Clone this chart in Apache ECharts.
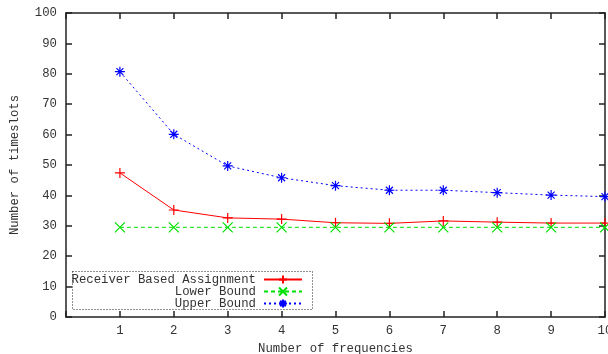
<!DOCTYPE html>
<html><head><meta charset="utf-8">
<script src="https://cdn.jsdelivr.net/npm/echarts@6/dist/echarts.min.js"></script>
<style>html,body{margin:0;padding:0;background:#fff}#c{width:608px;height:354px}</style>
</head><body><div id="c"></div>
<script>
const frequencies = [1, 2, 3, 4, 5, 6, 7, 8, 9, 10];
const receiverBased = [47.4, 35.2, 32.6, 32.2, 31.0, 30.8, 31.6, 31.2, 30.9, 30.9];
const lowerBound = [29.5, 29.5, 29.5, 29.5, 29.5, 29.5, 29.5, 29.5, 29.5, 29.5];
const upperBound = [80.7, 60.1, 49.7, 45.8, 43.2, 41.7, 41.7, 40.9, 40.1, 39.6];
const seriesNames = ['Receiver Based Assignment', 'Lower Bound', 'Upper Bound'];
const xTitle = 'Number of frequencies';
const yTitle = 'Number of timeslots';

const FONT = '"Liberation Mono", "DejaVu Sans Mono", monospace';
const FS = 12.3;
const PLUS = 'path://M0,5 L10,5 M5,0 L5,10';
const CROSS = 'path://M0,0 L10,10 M0,10 L10,0';
const STAR = 'path://M0,5 L10,5 M5,0 L5,10 M1.5,1.5 L8.5,8.5 M1.5,8.5 L8.5,1.5';

function pairs(vals){ return frequencies.map((f,i)=>[f, vals[i]]); }

const chart = echarts.init(document.getElementById('c'), null, {renderer:'canvas'});
const axisLine = {show:true, onZero:false, lineStyle:{color:'#222', width:1.5}};
const tickStyle = {show:true, inside:true, length:6, lineStyle:{color:'#222', width:1.5}};
const TXT = '#333';

function mkSeries(name, vals, color, type, sym){
  return {
    name, type:'line', data:pairs(vals), symbol:sym, symbolSize:10, showSymbol:true,
    lineStyle:{color, width:1, type},
    itemStyle:{color:'none', borderColor:color, borderWidth:1.2},
    emphasis:{disabled:true}, animation:false, z:3, clip:false
  };
}

function mkLegend(idx, top){
  return {
    data:[seriesNames[idx]], orient:'vertical', right:305, top, align:'right',
    itemWidth:38, itemHeight:10, itemGap:0, padding:0,
    textStyle:{fontFamily:FONT, fontSize:FS, color:TXT, padding:[0,3,0,0]},
    selectedMode:false, inactiveColor:TXT
  };
}

chart.setOption({
  animation:false,
  backgroundColor:'#fff',
  grid:{left:66, right:3, top:13, bottom:37, outerBoundsMode:'none', containLabel:false},
  legend:[mkLegend(0, 273), mkLegend(1, 285), mkLegend(2, 297)],
  xAxis:[{
    type:'value', min:0, max:10, interval:1,
    name:xTitle, nameLocation:'middle', nameGap:26,
    nameTextStyle:{fontFamily:FONT, fontSize:FS, color:TXT},
    axisLine, axisTick:tickStyle, splitLine:{show:false},
    axisLabel:{fontFamily:FONT, fontSize:FS, color:TXT, margin:8, hideOverlap:false,
      formatter:v => v===0 ? '' : String(v)}
  },{
    type:'value', min:0, max:10, interval:1, position:'top',
    axisLine, axisTick:tickStyle, splitLine:{show:false}, axisLabel:{show:false}
  }],
  yAxis:[{
    type:'value', min:0, max:100, interval:10,
    name:yTitle, nameLocation:'middle', nameGap:45,
    nameTextStyle:{fontFamily:FONT, fontSize:FS, color:TXT},
    axisLine, axisTick:tickStyle, splitLine:{show:false},
    axisLabel:{fontFamily:FONT, fontSize:FS, color:TXT, margin:9}
  },{
    type:'value', min:0, max:100, interval:10, position:'right',
    axisLine, axisTick:tickStyle, splitLine:{show:false}, axisLabel:{show:false}
  }],
  graphic:[{
    type:'rect', left:72, top:271, z:1,
    shape:{width:240, height:38},
    style:{fill:'#fff', stroke:'#222', lineWidth:1, lineDash:[1,2]}
  }],
  series:[
    mkSeries(seriesNames[0], receiverBased, '#ff0000', 'solid', PLUS),
    mkSeries(seriesNames[1], lowerBound, '#00e000', [4,3], CROSS),
    mkSeries(seriesNames[2], upperBound, '#0000ff', [2,3], STAR)
  ]
});
</script></body></html>
